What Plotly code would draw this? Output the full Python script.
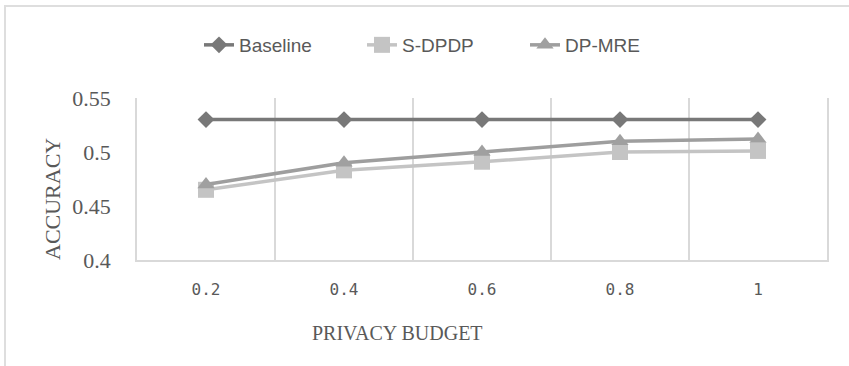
import plotly.graph_objects as go

# Privacy budget settings (category labels) and accuracy per method
budgets = ["0.2", "0.4", "0.6", "0.8", "1"]
baseline = [0.53, 0.53, 0.53, 0.53, 0.53]
s_dpdp = [0.465, 0.483, 0.491, 0.500, 0.501]
dp_mre = [0.470, 0.490, 0.500, 0.510, 0.512]

y_ticks = [0.4, 0.45, 0.5, 0.55]
y_ticktext = ["0.4", "0.45", "0.5", "0.55"]

W, H = 849, 366
ML, MR, MT, MB = 137, 22, 98, 106
PW, PH = W - ML - MR, H - MT - MB

def px_x(p):
    return (p - ML) / PW

def px_y(p):
    return (H - MB - p) / PH

TEXT = "#595959"
GRID = "#d9d9d9"
SERIF = "Liberation Serif, serif"

fig = go.Figure()
fig.add_trace(go.Scatter(
    x=budgets, y=baseline, name="Baseline", mode="lines+markers",
    line=dict(color="#787878", width=3.5),
    marker=dict(symbol="diamond", size=13, color="#787878"),
))
fig.add_trace(go.Scatter(
    x=budgets, y=s_dpdp, name="S-DPDP", mode="lines+markers",
    line=dict(color="#c4c4c4", width=3.5),
    marker=dict(symbol="square", size=16, color="#c4c4c4"),
))
fig.add_trace(go.Scatter(
    x=budgets, y=dp_mre, name="DP-MRE", mode="lines+markers",
    line=dict(color="#9e9e9e", width=3.5),
    marker=dict(symbol="triangle-up", size=15, color="#a0a0a0"),
))

fig.update_layout(
    width=W, height=H,
    margin=dict(l=ML, r=MR, t=MT, b=MB),
    paper_bgcolor="white", plot_bgcolor="white",
    showlegend=True,
    legend=dict(
        orientation="h", x=px_x(199), xanchor="left",
        y=px_y(45), yanchor="middle",
        font=dict(family="Liberation Sans", size=19, color=TEXT),
        entrywidth=118, entrywidthmode="pixels",
        traceorder="normal",
    ),
    xaxis=dict(
        type="category", range=[-0.5, 4.5],
        tickson="boundaries", ticks="", showgrid=True,
        gridcolor=GRID, gridwidth=1.5,
        showline=True, linecolor=GRID, linewidth=2,
        tickfont=dict(family="DejaVu Sans Mono", size=16, color=TEXT),
        ticklabelstandoff=14,
    ),
    yaxis=dict(
        range=[0.4, 0.55], tickvals=y_ticks, ticktext=y_ticktext,
        showgrid=False, zeroline=False, ticks="",
        showline=True, mirror=True, linecolor=GRID, linewidth=1.5,
        tickfont=dict(family=SERIF, size=22, color=TEXT),
        ticklabelstandoff=20,
    ),
    annotations=[
        dict(text="ACCURACY", xref="paper", yref="paper",
             x=px_x(52), y=px_y(199), xanchor="center", yanchor="middle",
             textangle=-90, showarrow=False,
             font=dict(family=SERIF, size=22, color=TEXT)),
        dict(text="PRIVACY BUDGET", xref="paper", yref="paper",
             x=px_x(397), y=px_y(333), xanchor="center", yanchor="middle",
             showarrow=False,
             font=dict(family=SERIF, size=20, color=TEXT)),
    ],
    shapes=[
        dict(type="rect", xref="paper", yref="paper",
             x0=px_x(5), x1=px_x(W + 20), y0=px_y(6), y1=px_y(H + 20),
             line=dict(color="#dedede", width=2), fillcolor="rgba(0,0,0,0)", layer="below"),
    ],
)

fig.write_html("out.html")
